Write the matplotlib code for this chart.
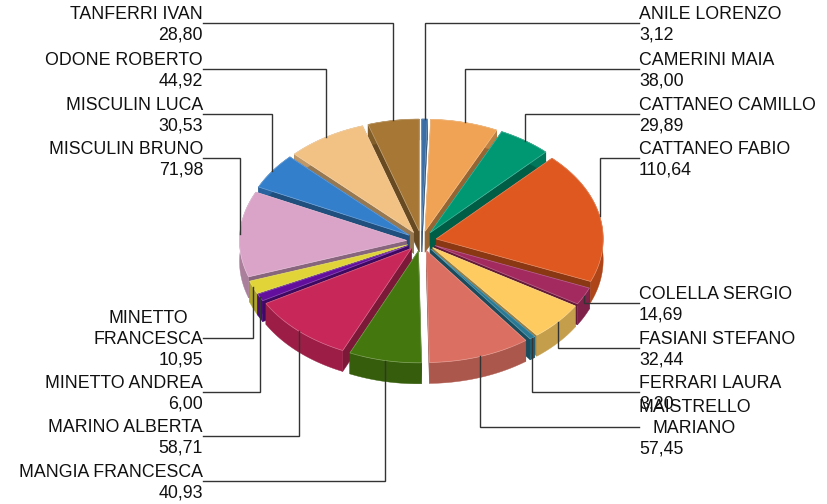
import numpy as np
import matplotlib
matplotlib.use("Agg")
import matplotlib.pyplot as plt
from matplotlib.colors import to_rgb

names = ["ANILE LORENZO", "CAMERINI MAIA", "CATTANEO CAMILLO", "CATTANEO FABIO",
         "COLELLA SERGIO", "FASIANI STEFANO", "FERRARI LAURA", "MAISTRELLO\nMARIANO",
         "MANGIA FRANCESCA", "MARINO ALBERTA", "MINETTO ANDREA", "MINETTO\nFRANCESCA",
         "MISCULIN BRUNO", "MISCULIN LUCA", "ODONE ROBERTO", "TANFERRI IVAN"]
values = [3.12, 38.00, 29.89, 110.64, 14.69, 32.44, 3.20, 57.45,
          40.93, 58.71, 6.00, 10.95, 71.98, 30.53, 44.92, 28.80]
colors = ["#3A6EA5", "#F0A354", "#009873", "#DE581F", "#A32A5E", "#FDCB60", "#2A7A96", "#DB7062",
          "#45770F", "#C8275A", "#630E9C", "#E0D438", "#DAA3C8", "#337FCC", "#F2C184", "#A67735"]
# y of the middle of each label block, in pixels
label_y = [23, 69, 114, 158, 303, 348, 392, 427, 481, 436, 392, 338, 158, 114, 69, 23]

# pie geometry, pixels
cx, cy = 421.5, 241
rx, ry = 167, 112
ex, ey = 15, 10
depth = 21
line_h = 20.7

plt.rcParams["font.family"] = ["Liberation Sans", "DejaVu Sans"]

fig = plt.figure(figsize=(8.27, 5.04), dpi=100)
ax = fig.add_axes([0, 0, 1, 1])
ax.set_xlim(0, 827)
ax.set_ylim(504, 0)
ax.axis("off")


def shade(col, f):
    return tuple(c * f for c in to_rgb(col))


def lighter(col, f=0.3):
    return tuple(c + (1 - c) * f for c in to_rgb(col))


edges = 2 * np.pi * np.cumsum([0] + values) / sum(values)

wedges = []
for i, col in enumerate(colors):
    a0, a1 = edges[i], edges[i + 1]
    mid = (a0 + a1) / 2
    ox = cx + ex * np.sin(mid)
    oy = cy - ey * np.cos(mid)
    t = np.linspace(a0, a1, 60)
    wedges.append((oy + ry * -np.cos(mid), ox, oy, t, col))

# back to front
for _, ox, oy, t, col in sorted(wedges, key=lambda w: w[0]):
    px = ox + rx * np.sin(t)
    py = oy - ry * np.cos(t)
    for j in [0, -1]:
        ax.fill([ox, px[j], px[j], ox], [oy, py[j], py[j] + depth, oy + depth],
                color=shade(col, 0.62), lw=0.3)
    ax.fill(np.r_[px, px[::-1]], np.r_[py, py[::-1] + depth],
            color=shade(col, 0.78), lw=0.3)
    ax.fill(np.r_[ox, px], np.r_[oy, py], facecolor=col,
            edgecolor=lighter(col), lw=0.5)

for i, name in enumerate(names):
    mid = (edges[i] + edges[i + 1]) / 2
    right_side = np.sin(mid) > 0
    tx = 639 if right_side else 203
    lines = name.split("\n") + [f"{values[i]:.2f}".replace(".", ",")]

    # leader: from the label to the rim of the slice
    rim_x = cx + (rx + ex) * np.sin(mid)
    rim_y = cy - (ry + ey) * np.cos(mid)
    ax.plot([tx, rim_x, rim_x], [label_y[i], label_y[i], rim_y],
            color="#333333", lw=1, solid_joinstyle="miter", zorder=5)

    top = label_y[i] - line_h * (len(lines) - 1) / 2
    for k, line in enumerate(lines):
        x = tx
        ha = "left" if right_side else "right"
        if len(lines) == 3 and k == 1 and right_side:
            x = tx + 14
        if len(lines) == 3 and k == 0 and not right_side:
            x = tx - 15
        ax.text(x, top + line_h * k + 6, line, ha=ha, va="baseline",
                fontsize=12.8, color="#111111", zorder=6)

fig.savefig("out.png", dpi=100)
